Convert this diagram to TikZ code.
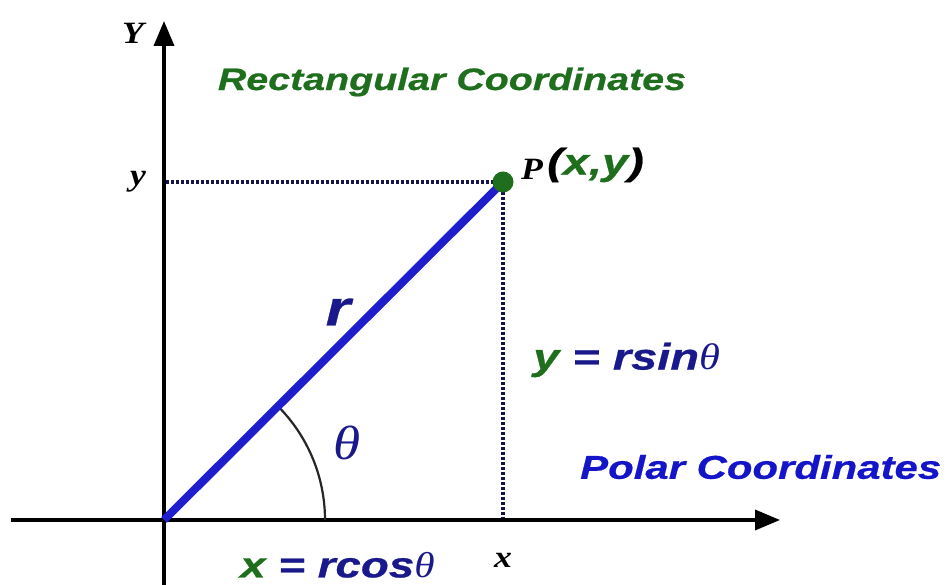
\documentclass[tikz,border=0pt]{standalone}
\usepackage{fontspec}
\setmainfont{Liberation Serif}
\newfontfamily\widesans[FakeStretch=1.27, BoldItalicFeatures={FakeBold=0.6}]{Liberation Sans}
\newfontfamily\wideserif[FakeStretch=1.15]{Liberation Serif}
\usetikzlibrary{arrows.meta}
\definecolor{grn}{RGB}{30,110,30}
\definecolor{navy}{RGB}{25,25,140}
\definecolor{pblue}{RGB}{20,20,200}
\definecolor{lblue}{RGB}{30,30,205}
\definecolor{dotcol}{RGB}{20,20,70}
\tikzset{
  axis/.style={line width=3.5pt, -{Triangle[length=25pt,width=20pt]}},
  dotline/.style={line width=3.2pt, dotcol, dash pattern=on 3pt off 2pt},
  sanslbl/.style={inner sep=0pt},
  seriflbl/.style={inner sep=0pt},
}
\begin{document}
\begin{tikzpicture}[x=1pt,y=1pt]
\useasboundingbox (0,0) rectangle (948,585);
\fill[white] (0,0) rectangle (948,585);
\coordinate (O) at (164,65);
\coordinate (Ybot) at (164,0);
\coordinate (Ytop) at (164,564);
\coordinate (Xl) at (11,65);
\coordinate (Xr) at (780,65);
\coordinate (P) at (503,403);
\coordinate (Py) at (166,403);
\coordinate (Px) at (503,67);
% axes
\draw[axis] (Xl) -- (Xr);
\draw[axis] (Ybot) -- (Ytop);
% dotted
\draw[dotline] (Py) -- (P);
\draw[dotline] (P) -- (Px);
% arc
\draw[line width=2.2pt, black!85] (O) ++(0:161) arc[start angle=0, end angle=45, radius=161];
% radius line
\draw[line width=8pt, lblue] (O) -- (P);
\fill[grn] (P) circle (10.5);
% labels
\node[seriflbl, font=\wideserif\bfseries\itshape\fontsize{31}{31}\selectfont] (Ylbl) at (133,552) {Y};
\node[seriflbl, font=\wideserif\bfseries\itshape\fontsize{31}{31}\selectfont] (ylbl) at (138,403) {y};
\node[seriflbl, font=\wideserif\bfseries\itshape\fontsize{31}{31}\selectfont] (xlbl) at (503,25) {x};
\node[sanslbl, grn, font=\widesans\bfseries\itshape\fontsize{31}{31}\selectfont] (rect) at (452,503) {Rectangular Coordinates};
\node[sanslbl, pblue, font=\widesans\bfseries\itshape\fontsize{33}{33}\selectfont, anchor=west] (polar) at (580,118) {Polar Coordinates};
\node[seriflbl, font=\wideserif\bfseries\itshape\fontsize{31}{31}\selectfont, anchor=west] (Plbl) at (521,416) {P};
\node[sanslbl, font=\widesans\bfseries\itshape\fontsize{37}{37}\selectfont, anchor=west] (xy) at (547,420) {(\textcolor{grn}{x,y})};
\node[sanslbl, navy, font=\widesans\bfseries\itshape\fontsize{50}{50}\selectfont] (rlbl) at (338,273) {r};
\node[inner sep=0pt, navy, font=\wideserif\itshape\fontsize{48}{48}\selectfont] (theta) at (347,142) {θ};
\node[sanslbl, navy, font=\widesans\bfseries\itshape\fontsize{37}{37}\selectfont, anchor=west] (ysin) at (533,225) {\textcolor{grn}{y} = rsin{\wideserif\mdseries θ}};
\node[sanslbl, navy, font=\widesans\bfseries\itshape\fontsize{36}{36}\selectfont, anchor=west] (xcos) at (240,20) {\textcolor{grn}{x} = rcos{\wideserif\mdseries θ}};
\end{tikzpicture}
\end{document}
